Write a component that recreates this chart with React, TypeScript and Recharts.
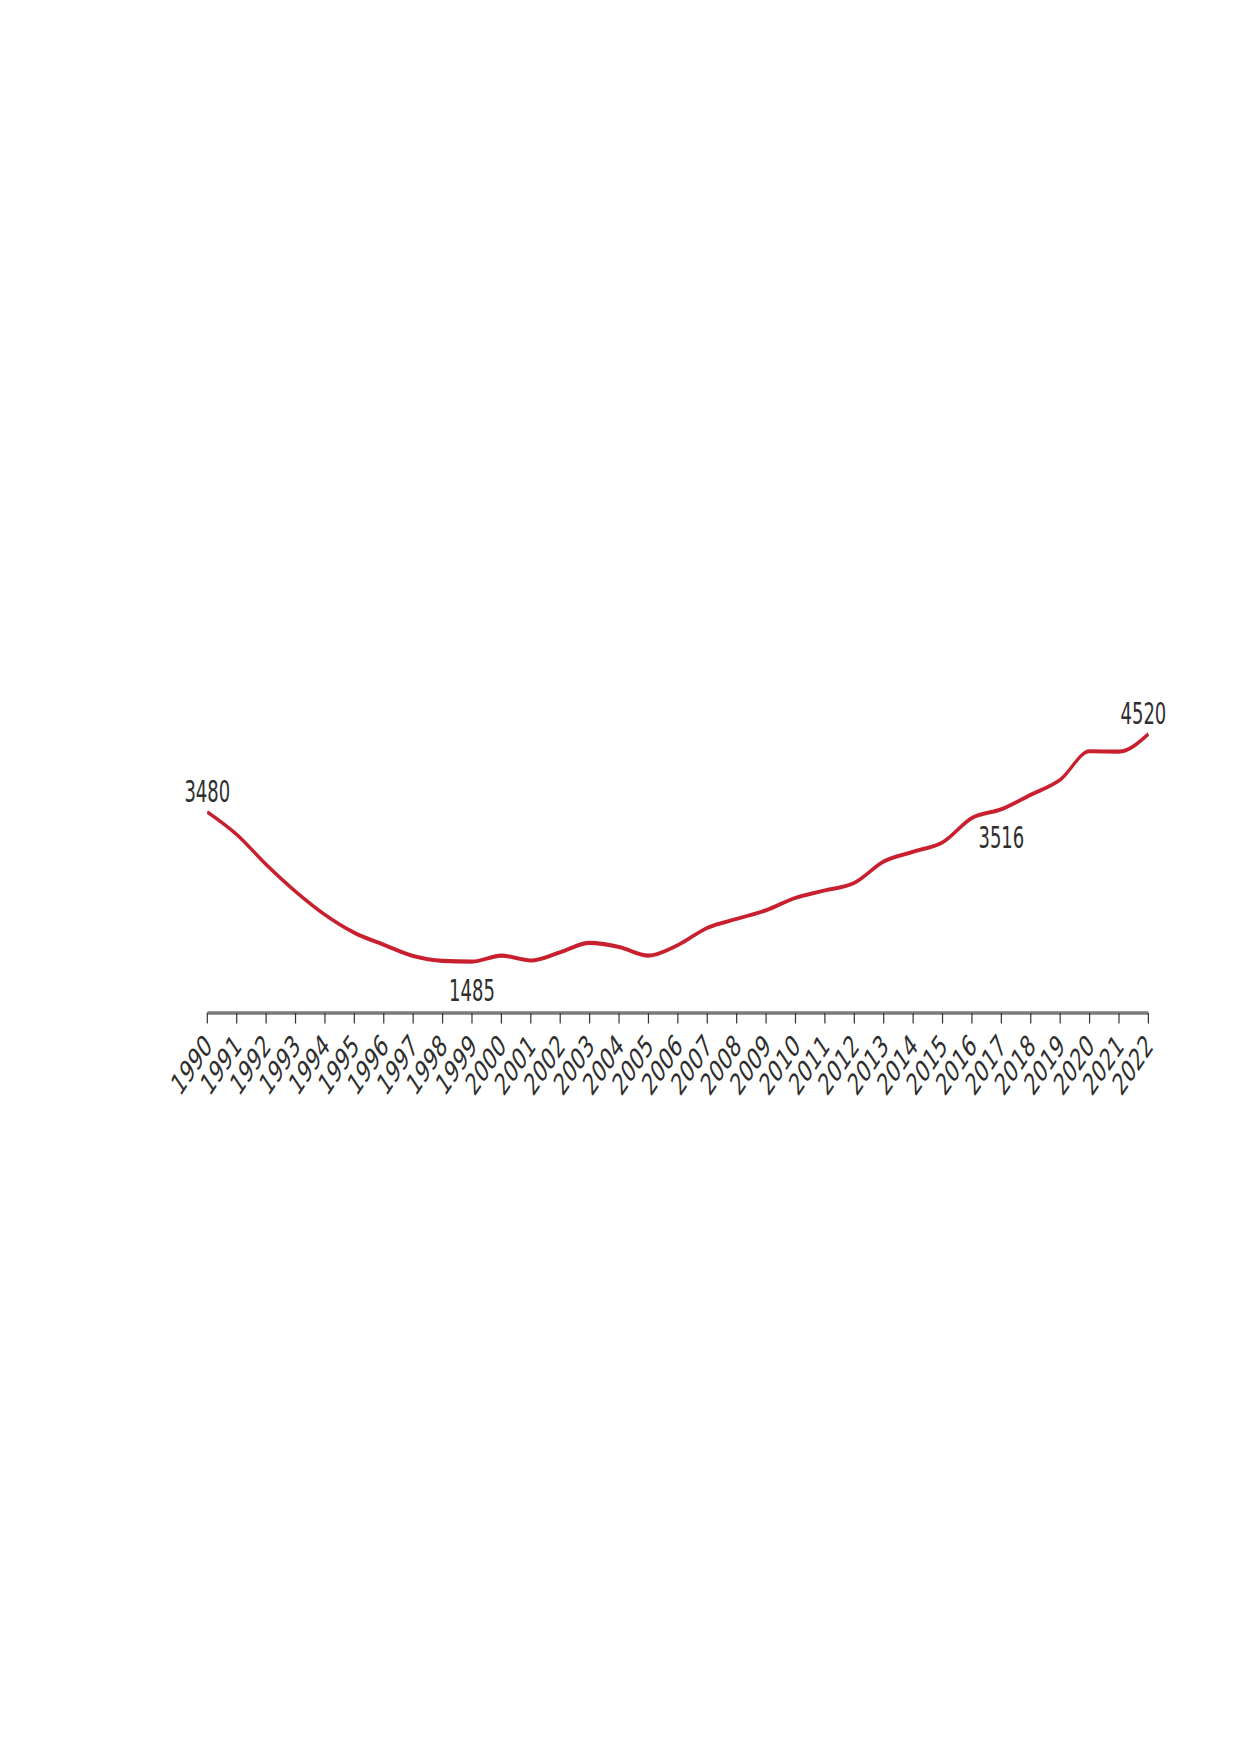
import React from 'react';
import { LineChart, Line, XAxis, YAxis, LabelList } from 'recharts';

const years = [
  1990, 1991, 1992, 1993, 1994, 1995, 1996, 1997, 1998, 1999, 2000,
  2001, 2002, 2003, 2004, 2005, 2006, 2007, 2008, 2009, 2010, 2011,
  2012, 2013, 2014, 2015, 2016, 2017, 2018, 2019, 2020, 2021, 2022,
];

const values = [
  3480, 3180, 2780, 2420, 2110, 1870, 1710, 1560, 1495, 1485, 1565,
  1500, 1610, 1735, 1680, 1565, 1705, 1935, 2055, 2170, 2335, 2435,
  2535, 2820, 2950, 3075, 3400, 3516, 3710, 3910, 4290, 4285, 4520,
];

const labeledYears = [1990, 1999, 2017, 2022];

const data = years.map((year, i) => ({
  year,
  value: values[i],
  label: labeledYears.includes(year) ? String(values[i]) : '',
}));

const FONT = "'DejaVu Sans Condensed', 'DejaVu Sans', sans-serif";
const TEXT_COLOR = '#2e2e2e';

const YearTick = (props: any) => {
  const { x, y, payload } = props;
  const ax = x + 6;
  const ay = y + 14;
  return (
    <text
      x={ax}
      y={ay}
      transform={`rotate(-45, ${ax}, ${ay})`}
      textAnchor="end"
      fontFamily={FONT}
      fontStretch="condensed"
      fontSize={20.5}
      fill={TEXT_COLOR}
    >
      {payload.value}
    </text>
  );
};

const PointLabel = (props: any) => {
  const { x, y, value, index } = props;
  if (!value) return null;
  const last = years.length - 1;
  const above = index === 0 || index === last;
  const dx = index === last ? -5 : 0;
  return (
    <text
      x={x + dx}
      y={above ? y - 6.5 : y + 26}
      textAnchor="middle"
      fontFamily={FONT}
      fontStretch="condensed"
      fontSize={20}
      fill={TEXT_COLOR}
    >
      {value}
    </text>
  );
};

export default function App() {
  return (
    <div style={{ paddingTop: 600.3, height: 495, overflow: 'visible' }}>
      <div style={{ width: 1224, height: 495, position: 'relative' }}>
        <div
          style={{
            position: 'absolute',
            left: 0,
            top: 0,
            width: 1224,
            height: 330,
            transform: 'scaleY(1.5)',
            transformOrigin: 'top left',
          }}
        >
          <LineChart
            width={1224}
            height={330}
            data={data}
            margin={{ top: 60, right: 83.6, bottom: 0, left: 199.3 }}
          >
            <XAxis
              dataKey="year"
              type="number"
              domain={[1990, 2022]}
              ticks={years}
              interval={0}
              height={60}
              tickSize={7}
              axisLine={{ stroke: '#7a7a7a', strokeWidth: 2.2 }}
              tickLine={{ stroke: '#333333', strokeWidth: 1.2 }}
              tick={<YearTick />}
            />
            <YAxis hide type="number" domain={[800, 5000]} />
            <Line
              type="monotone"
              dataKey="value"
              stroke="#c8202f"
              strokeWidth={2.7}
              dot={false}
              activeDot={false}
              isAnimationActive={false}
            >
              <LabelList dataKey="label" content={<PointLabel />} />
            </Line>
          </LineChart>
        </div>
      </div>
    </div>
  );
}
